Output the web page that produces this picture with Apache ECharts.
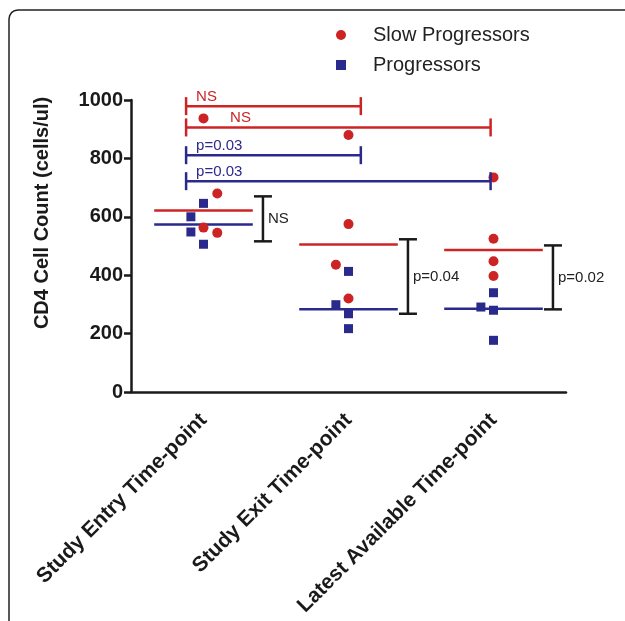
<!DOCTYPE html>
<html><head><meta charset="utf-8">
<script src="https://cdn.jsdelivr.net/npm/echarts@6/dist/echarts.min.js"></script>
<style>html,body{margin:0;padding:0;background:#fff}#c{width:625px;height:621px}</style>
</head><body><div id="c"></div>
<script>
// ---- data ----
const categories = ['Study Entry Time-point', 'Study Exit Time-point', 'Latest Available Time-point'];
const yTickValues = [0, 200, 400, 600, 800, 1000];
const slowProgressors = [[937, 680, 563, 545], [880, 575, 436, 320], [735, 525, 448, 397]];
const progressors = [[646, 600, 548, 506], [413, 299, 268, 217], [340, 291, 280, 177]];
const slowJitter = [[0, 0.095, 0, 0.095], [0, 0, -0.087, 0], [0, 0, 0, 0]];
const progJitter = [[0, -0.087, -0.087, 0], [0, -0.087, 0, 0], [0, -0.087, 0, 0]];
const topBracketSpans = [[0, 1], [0, 2], [0, 1], [0, 2]];
const topBracketLevels = [979, 906, 811, 722];
const topBracketLabels = ['NS', 'NS', 'p=0.03', 'p=0.03'];
const topBracketGroups = ['slow', 'slow', 'prog', 'prog'];
const sideBracketLows = [516, 268, 283];
const sideBracketHighs = [670, 523, 502];
const sideBracketLabels = ['NS', 'p=0.04', 'p=0.02'];

// ---- styles ----
const RED = '#cc2424', BLUE = '#2a2a8c', INK = '#1a1a1a';
const FONT = '"Liberation Sans", Arial, Helvetica, sans-serif';

function median(arr) {
  const s = arr.slice().sort((a, b) => a - b);
  const n = s.length;
  return n % 2 ? s[(n - 1) / 2] : (s[n / 2 - 1] + s[n / 2]) / 2;
}
const slowPoints = [], progPoints = [], slowMedians = [], progMedians = [];
slowProgressors.forEach((g, gi) => {
  g.forEach((v, i) => slowPoints.push([gi + slowJitter[gi][i], v]));
  slowMedians.push([gi, median(g)]);
});
progressors.forEach((g, gi) => {
  g.forEach((v, i) => progPoints.push([gi + progJitter[gi][i], v]));
  progMedians.push([gi, median(g)]);
});
const topBrackets = topBracketSpans.map((s, i) => [s[0], s[1], topBracketLevels[i], i]);
const sideBrackets = sideBracketLows.map((lo, i) => [i, lo, sideBracketHighs[i], i]);

function medianRenderer(color) {
  return function (params, api) {
    const g = api.value(0), v = api.value(1);
    const a = api.coord([g - 0.34, v]), b = api.coord([g + 0.34, v]);
    return { type: 'line', shape: { x1: a[0], y1: a[1], x2: b[0], y2: b[1] },
      style: { stroke: color, lineWidth: 2.5 } };
  };
}
const labelShift = [10, 44, 10, 10];
function topBracketRenderer(params, api) {
  const from = api.value(0), to = api.value(1), lvl = api.value(2), idx = api.value(3);
  const color = topBracketGroups[idx] === 'slow' ? RED : BLUE;
  const a = api.coord([from - 0.12, lvl]);
  const b = api.coord([to + (to === 1 ? 0.085 : -0.02), lvl]);
  const cap = 9;
  return { type: 'group', children: [
    { type: 'line', shape: { x1: a[0], y1: a[1], x2: b[0], y2: a[1] }, style: { stroke: color, lineWidth: 2.5 } },
    { type: 'line', shape: { x1: a[0], y1: a[1] - cap, x2: a[0], y2: a[1] + cap }, style: { stroke: color, lineWidth: 2.5 } },
    { type: 'line', shape: { x1: b[0], y1: a[1] - cap, x2: b[0], y2: a[1] + cap }, style: { stroke: color, lineWidth: 2.5 } },
    { type: 'text', x: a[0] + labelShift[idx], y: a[1] - 2,
      style: { text: topBracketLabels[idx], fill: color, font: '15px ' + FONT, align: 'left', verticalAlign: 'bottom' } }
  ] };
}
function sideBracketRenderer(params, api) {
  const g = api.value(0), lo = api.value(1), hi = api.value(2), idx = api.value(3);
  const t = api.coord([g + 0.41, hi]), b = api.coord([g + 0.41, lo]);
  const cap = 9;
  return { type: 'group', children: [
    { type: 'line', shape: { x1: t[0], y1: t[1], x2: b[0], y2: b[1] }, style: { stroke: INK, lineWidth: 2.5 } },
    { type: 'line', shape: { x1: t[0] - cap, y1: t[1], x2: t[0] + cap, y2: t[1] }, style: { stroke: INK, lineWidth: 2.5 } },
    { type: 'line', shape: { x1: b[0] - cap, y1: b[1], x2: b[0] + cap, y2: b[1] }, style: { stroke: INK, lineWidth: 2.5 } },
    { type: 'text', x: t[0] + 5, y: (t[1] + b[1]) / 2,
      style: { text: sideBracketLabels[idx], fill: '#222', font: '15px ' + FONT, align: 'left', verticalAlign: 'middle' } }
  ] };
}

const chart = echarts.init(document.getElementById('c'), null, { renderer: 'canvas' });
chart.setOption({
  backgroundColor: '#ffffff',
  animation: false,
  textStyle: { fontFamily: FONT },
  grid: { left: 131, top: 100, right: 59, bottom: 229, containLabel: false },
  legend: {
    orient: 'vertical', left: 336, top: 25, padding: 0, itemGap: 10,
    itemWidth: 10, itemHeight: 10,
    textStyle: { fontSize: 20, color: '#222', fontFamily: FONT, padding: [0, 0, 0, 22] },
    data: [{ name: 'Slow Progressors', icon: 'circle' }, { name: 'Progressors', icon: 'rect' }]
  },
  graphic: [
    { type: 'polyline', shape: { points: [[9, 621], [9, 19], [9.7, 15.6], [11.6, 12.6], [14.4, 10.7], [18, 10], [625, 10]] },
      style: { fill: null, stroke: '#222', lineWidth: 1.5 }, silent: true },
    { type: 'text', x: 42, y: 213, rotation: Math.PI / 2,
      style: { text: 'CD4 Cell Count (cells/ul)', fill: INK, font: 'bold 20px ' + FONT, align: 'center', verticalAlign: 'middle' } }
  ],
  xAxis: [
    { type: 'category', data: categories, boundaryGap: true,
      axisLine: { onZero: false, lineStyle: { color: INK, width: 2.5 } },
      axisTick: { alignWithLabel: true, length: 7, lineStyle: { color: INK, width: 2.5 } },
      axisLabel: { rotate: 45, interval: 0, margin: 25, fontSize: 21, fontWeight: 'bold', color: INK, fontFamily: FONT },
      splitLine: { show: false } },
    { type: 'value', min: -0.5, max: 2.5, show: false }
  ],
  yAxis: {
    type: 'value', min: yTickValues[0], max: yTickValues[yTickValues.length - 1], interval: 200,
    axisLine: { show: true, onZero: false, lineStyle: { color: INK, width: 2.5 } },
    axisTick: { show: true, length: 7, lineStyle: { color: INK, width: 2.5 } },
    axisLabel: { margin: 8, fontSize: 20, fontWeight: 'bold', color: INK, fontFamily: FONT,
      formatter: v => String(v) },
    splitLine: { show: false }
  },
  series: [
    { name: 'Slow Progressors medians', type: 'custom', xAxisIndex: 1, renderItem: medianRenderer(RED), data: slowMedians, z: 2 },
    { name: 'Progressors medians', type: 'custom', xAxisIndex: 1, renderItem: medianRenderer(BLUE), data: progMedians, z: 2 },
    { name: 'Slow Progressors', type: 'scatter', xAxisIndex: 1, symbol: 'circle', symbolSize: 10,
      itemStyle: { color: RED, opacity: 1 }, data: slowPoints, z: 3 },
    { name: 'Progressors', type: 'scatter', xAxisIndex: 1, symbol: 'rect', symbolSize: 9,
      itemStyle: { color: BLUE, opacity: 1 }, data: progPoints, z: 3 },
    { name: 'top brackets', type: 'custom', xAxisIndex: 1, renderItem: topBracketRenderer, data: topBrackets, z: 4 },
    { name: 'side brackets', type: 'custom', xAxisIndex: 1, renderItem: sideBracketRenderer, data: sideBrackets, z: 4 }
  ]
});
</script></body></html>
